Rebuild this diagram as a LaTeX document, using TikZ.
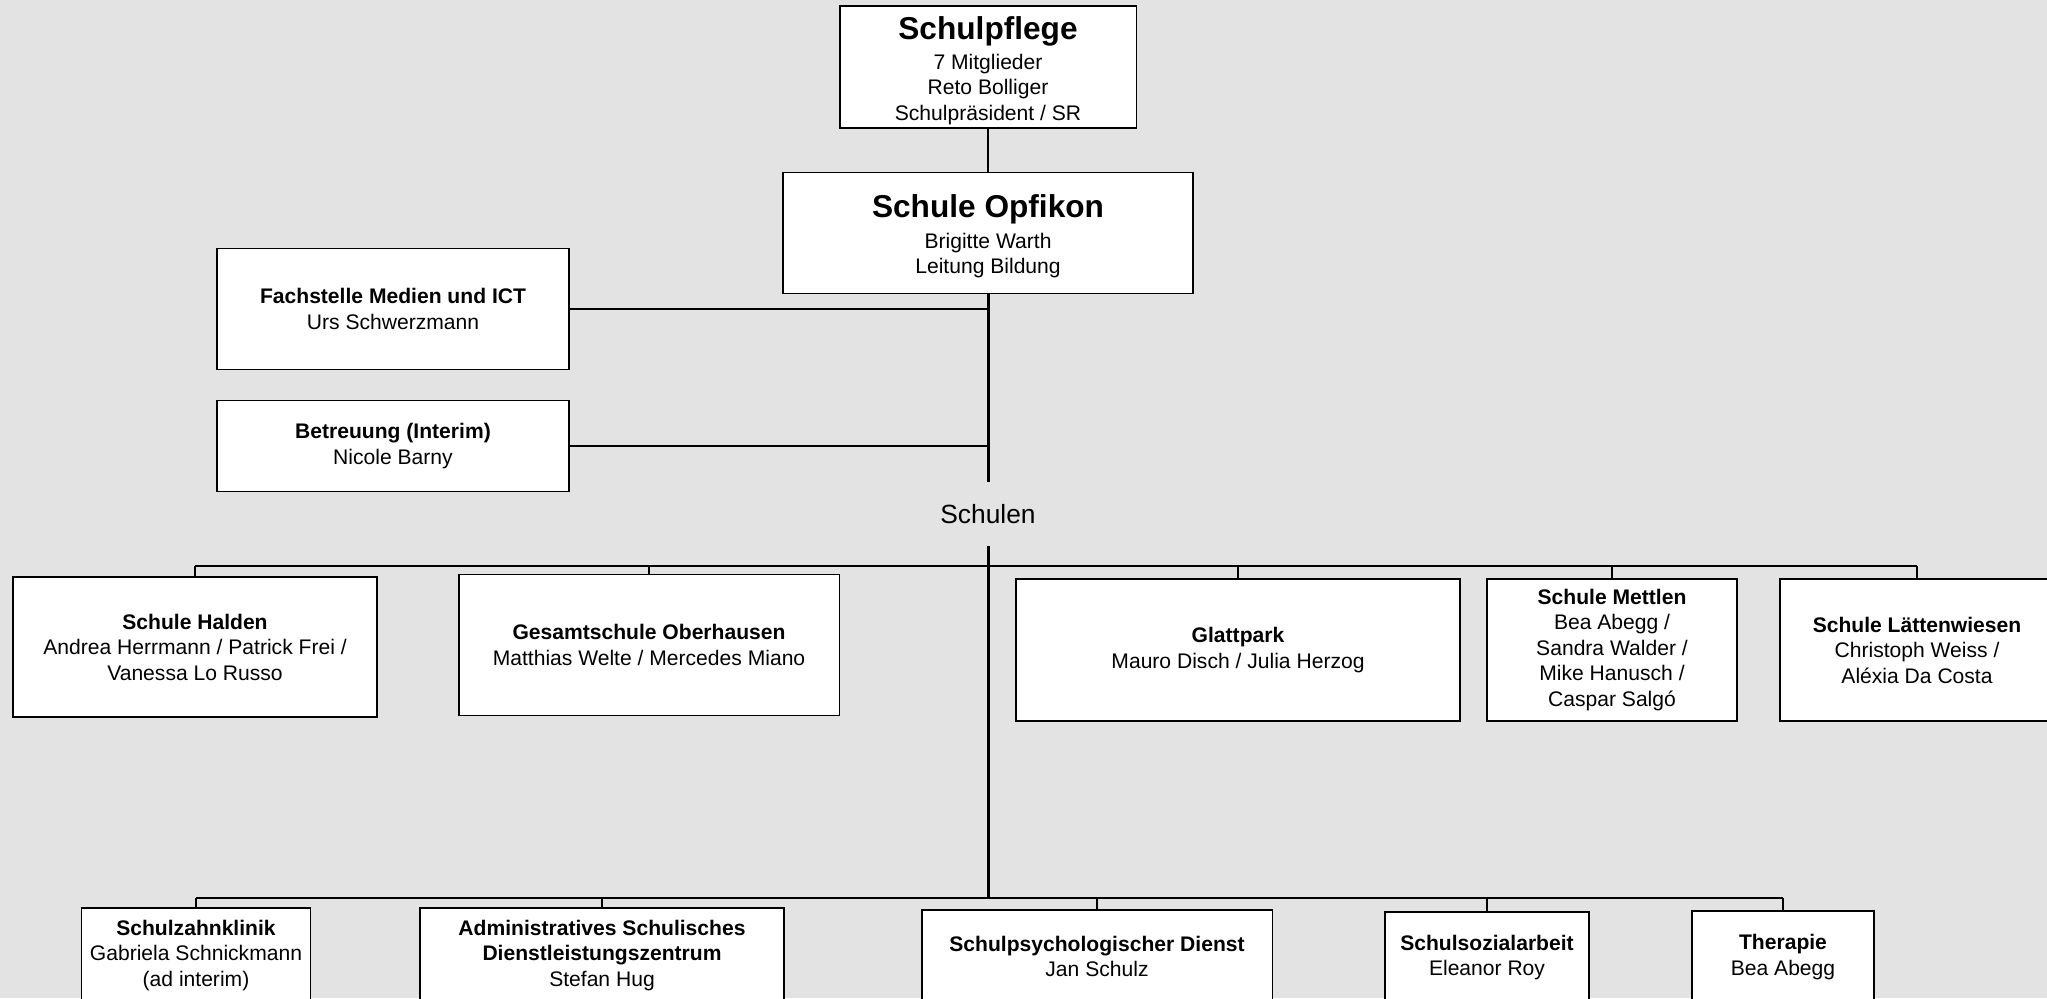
\documentclass[tikz,border=0pt]{standalone}
\usepackage{fontspec}
\setmainfont{Liberation Sans}
\usetikzlibrary{positioning,calc}
\definecolor{chartbg}{RGB}{227,227,227}
\newcommand{\orgtitle}[1]{{\fontsize{18}{21}\selectfont\bfseries\rule{0pt}{17pt}#1}\\[2.6pt]}

\begin{document}
\begin{tikzpicture}[x=0.02cm, y=-0.02cm, line width=1.1pt, font=\fontsize{12}{14.5}\selectfont]
\tikzstyle{unit}=[draw, fill=white, line width=1.1pt, align=center, inner sep=2pt]
\clip (0,0) rectangle (2047,998);
\fill[chartbg] (0,0) rectangle (2047,998);

\node[unit, minimum width=5.94cm, minimum height=2.42cm] (pflege) at (988,67) {\orgtitle{Schulpflege}7 Mitglieder\\Reto Bolliger\\Schulpräsident / SR};
\node[unit, minimum width=8.2cm, minimum height=2.42cm] (opfikon) at (988,233) {\orgtitle{Schule Opfikon}Brigitte Warth\\Leitung Bildung};

\node[unit, minimum width=7.04cm, minimum height=2.42cm] (ict) at (393,309) {\textbf{Fachstelle Medien und ICT}\\Urs Schwerzmann};
\node[unit, minimum width=7.04cm, minimum height=1.82cm] (betreuung) at (393,446) {\textbf{Betreuung (Interim)}\\Nicole Barny};

\node[font=\fontsize{15}{18}\selectfont, minimum height=1.26cm, inner sep=0pt] (schulen) at (988,514) {Schulen};

% Schulen
\node[unit, minimum width=7.28cm, minimum height=2.8cm] (halden) at (195,647) {\textbf{Schule Halden}\\Andrea Herrmann / Patrick Frei /\\Vanessa Lo Russo};
\node[unit, minimum width=7.62cm, minimum height=2.82cm] (oberhausen) at (649,645) {\textbf{Gesamtschule Oberhausen}\\Matthias Welte / Mercedes Miano};
\node[unit, minimum width=8.88cm, minimum height=2.84cm] (glattpark) at (1238,650) {\textbf{Glattpark}\\Mauro Disch / Julia Herzog};
\node[unit, minimum width=5.0cm, minimum height=2.84cm] (mettlen) at (1612,650) {\textbf{Schule Mettlen}\\Bea Abegg /\\Sandra Walder /\\Mike Hanusch /\\Caspar Salgó};
\node[unit, minimum width=5.48cm, minimum height=2.84cm] (laetten) at (1917,650) {\textbf{Schule Lättenwiesen}\\Christoph Weiss /\\Aléxia Da Costa};

% Dienste
\node[unit, anchor=north, minimum width=4.58cm, minimum height=1.9cm] (zahn) at (196,907) {\textbf{Schulzahnklinik}\\Gabriela Schnickmann\\(ad interim)};
\node[unit, anchor=north, minimum width=7.28cm, minimum height=1.9cm] (adsz) at (602,907) {\textbf{Administratives Schulisches}\\\textbf{Dienstleistungszentrum}\\Stefan Hug};
\node[unit, anchor=north, minimum width=7.02cm, minimum height=1.86cm] (spd) at (1097,909) {\textbf{Schulpsychologischer Dienst}\\Jan Schulz};
\node[unit, anchor=north, minimum width=4.08cm, minimum height=1.82cm] (ssa) at (1487,911) {\textbf{Schulsozialarbeit}\\Eleanor Roy};
\node[unit, anchor=north, minimum width=3.64cm, minimum height=1.84cm] (therapie) at (1783,910) {\textbf{Therapie}\\Bea Abegg};

\coordinate (sbus) at (988,566);
\coordinate (dbus) at (988,898);

\draw (pflege) -- (opfikon);
\draw[line width=1.7pt] (opfikon) -- (schulen);
\draw[line width=1.7pt] (schulen) -- (dbus);
\draw (ict.east) -- (ict.east -| opfikon.south);
\draw (betreuung.east) -- (betreuung.east -| opfikon.south);

\draw (sbus -| halden.north) -- (sbus -| laetten.north);
\foreach \n in {halden,oberhausen,glattpark,mettlen,laetten}
  \draw (sbus -| \n.north) -- (\n.north);

\draw (dbus -| zahn.north) -- (dbus -| therapie.north);
\foreach \n in {zahn,adsz,spd,ssa,therapie}
  \draw (dbus -| \n.north) -- (\n.north);
\end{tikzpicture}
\end{document}
